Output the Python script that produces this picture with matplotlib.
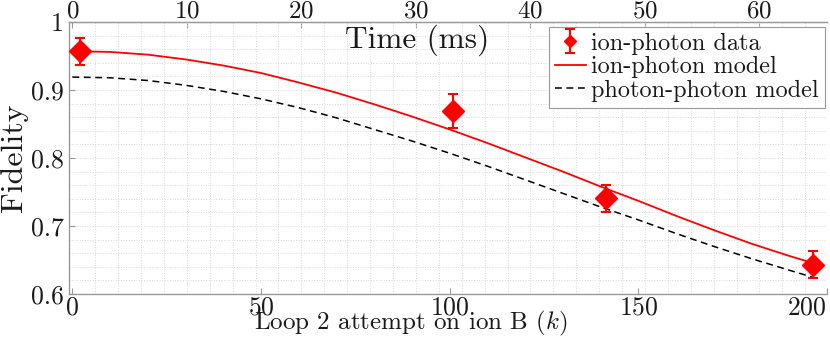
import numpy as np
import matplotlib
matplotlib.use("Agg")
import matplotlib.pyplot as plt

plt.rcParams['font.family'] = ['cmr10', 'DejaVu Serif']
plt.rcParams['mathtext.fontset'] = 'cm'
plt.rcParams['axes.formatter.use_mathtext'] = True

# measured fidelity (ion-photon)
data_k = [2, 101, 141.5, 196.3]
data_f = [0.957, 0.869, 0.741, 0.643]
data_err = [0.020, 0.025, 0.020, 0.020]

# model curves
model_k = [0, 10, 20, 30, 40, 50, 60, 70, 80, 90, 100, 110, 120, 130, 140,
           150, 160, 170, 180, 190, 196]
ion_photon = [0.957, 0.956, 0.952, 0.945, 0.936, 0.925, 0.911, 0.896, 0.879,
              0.861, 0.842, 0.822, 0.801, 0.780, 0.758, 0.737, 0.715, 0.694,
              0.674, 0.656, 0.646]
photon_photon = [0.919, 0.918, 0.914, 0.907, 0.898, 0.887, 0.874, 0.859, 0.842,
                 0.825, 0.807, 0.788, 0.768, 0.748, 0.728, 0.709, 0.689, 0.670,
                 0.652, 0.635, 0.625]

k_ticks = [0, 50, 100, 150, 200]
f_ticks = [0.6, 0.7, 0.8, 0.9, 1.0]
f_ticklabels = ['0.6', '0.7', '0.8', '0.9', '1']
ms_ticks = [0, 10, 20, 30, 40, 50, 60]
ms_per_attempt = 0.3295

axis_grey = '0.6'
text_col = '0.1'

fig = plt.figure(figsize=(8.3, 3.39), dpi=100)
ax = fig.add_axes([0.0831, 0.1327, 0.9133, 0.8024])

ax.plot(model_k, ion_photon, color='#ff0000', lw=1.3, label='ion-photon model', zorder=3)
ax.plot(model_k, photon_photon, color='black', lw=1.1, ls=(0, (4.5, 3)),
        label='photon-photon model', zorder=3)
ax.errorbar(data_k, data_f, yerr=data_err, fmt='D', color='#ff0000', ms=11,
            elinewidth=1.5, capsize=3.5, capthick=1.5, label='ion-photon data', zorder=4)

ax.set_xlim(-0.9, 200)
ax.set_ylim(0.6, 1.0)

ax.set_xticks(k_ticks)
ax.set_yticks(f_ticks)
ax.set_yticklabels(f_ticklabels)
ax.set_xticks(np.arange(0, 66, 2) / ms_per_attempt, minor=True)
ax.set_yticks(np.arange(0.6, 1.0001, 0.02), minor=True)
ax.tick_params(which='minor', length=0)
ax.tick_params(which='major', direction='in', length=4, color=axis_grey,
               labelsize=18.5, labelcolor=text_col)
ax.tick_params(axis='x', pad=1.5)
ax.tick_params(axis='y', pad=4)
ax.get_xticklabels()[-1].set_ha('right')

ax.set_axisbelow(True)
ax.xaxis.grid(True, which='minor', ls=':', color='0.85', lw=0.7)
ax.yaxis.grid(True, which='both', ls=':', color='0.85', lw=0.7)

for s in ['left', 'bottom', 'top']:
    ax.spines[s].set_color(axis_grey)
    ax.spines[s].set_linewidth(1.0)
ax.spines['right'].set_visible(False)

top = ax.secondary_xaxis('top', functions=(lambda k: k * ms_per_attempt,
                                           lambda t: t / ms_per_attempt))
top.set_xticks(ms_ticks)
top.tick_params(direction='in', length=4, color=axis_grey, labelsize=18,
                labelcolor=text_col, pad=0)
top.spines['top'].set_color(axis_grey)

ax.text(0.459, 0.934, 'Time (ms)', transform=ax.transAxes, ha='center',
        va='center', fontsize=22.5, color=text_col)

ax.set_xlabel('Loop 2 attempt on ion B ($k$)', fontsize=18, color=text_col)
ax.xaxis.set_label_coords(0.451, -0.11)
ax.xaxis.label.set_va('center')
ax.set_ylabel('Fidelity', fontsize=23, color=text_col)
ax.yaxis.set_label_coords(-0.073, 0.5)
ax.yaxis.label.set_va('center')

h, l = ax.get_legend_handles_labels()
order = [2, 0, 1]
leg = ax.legend([h[i] for i in order], [l[i] for i in order], loc='upper right',
                bbox_to_anchor=(0.997, 0.983), borderaxespad=0, fontsize=17.5,
                fancybox=False, framealpha=1, edgecolor=axis_grey,
                handlelength=1.3, handletextpad=0.2, labelspacing=0.05,
                borderpad=0.25, markerscale=0.55)
leg.get_frame().set_linewidth(0.8)
for t in leg.get_texts():
    t.set_color(text_col)

fig.savefig('out.png', dpi=100)
